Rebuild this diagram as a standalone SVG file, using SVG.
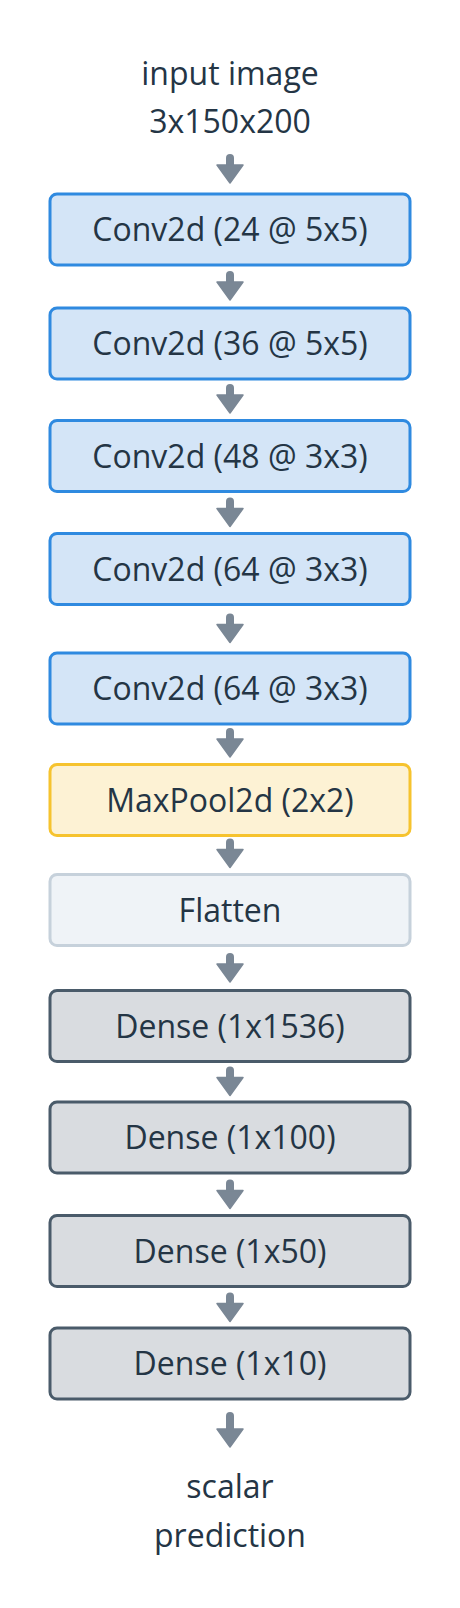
<svg xmlns="http://www.w3.org/2000/svg" width="460" height="1608" viewBox="0 0 460 1608">
  <defs>
    <style>
      .t { font-family: "Open Sans", "Noto Sans", "DejaVu Sans", sans-serif; font-size: 32px; font-weight: 500; fill: #243545; text-anchor: middle; }
      .box { stroke-width: 3; }
      .conv { fill: #d4e5f7; stroke: #2f8ae0; }
      .pool { fill: #fdf2d4; stroke: #f6c32e; }
      .flat { fill: #eff3f7; stroke: #c6d1db; }
      .dense { fill: #d9dce0; stroke: #4a5b6a; }
      .shaft { stroke: #7a8795; stroke-width: 8; stroke-linecap: round; fill: none; }
      .head { fill: #7a8795; stroke: #7a8795; stroke-width: 1.5; stroke-linejoin: round; }
    </style>
    <g id="arrow">
      <line class="shaft" x1="0" y1="4" x2="0" y2="14"/>
      <polygon class="head" points="-13,11 13,11 0,29"/>
    </g>
  </defs>
  <rect width="460" height="1608" fill="#ffffff"/>

  <g id="input">
    <text class="t" x="230" y="85">input image</text>
    <text class="t" x="230" y="133">3x150x200</text>
  </g>

  <g id="conv1"><rect class="box conv" x="50" y="194" width="360" height="71" rx="7"/><text class="t" x="230" y="241">Conv2d (24 @ 5x5)</text></g>
  <g id="conv2"><rect class="box conv" x="50" y="308" width="360" height="71" rx="7"/><text class="t" x="230" y="355">Conv2d (36 @ 5x5)</text></g>
  <g id="conv3"><rect class="box conv" x="50" y="420.5" width="360" height="71" rx="7"/><text class="t" x="230" y="467.5">Conv2d (48 @ 3x3)</text></g>
  <g id="conv4"><rect class="box conv" x="50" y="533.5" width="360" height="71" rx="7"/><text class="t" x="230" y="580.5">Conv2d (64 @ 3x3)</text></g>
  <g id="conv5"><rect class="box conv" x="50" y="653" width="360" height="71" rx="7"/><text class="t" x="230" y="700">Conv2d (64 @ 3x3)</text></g>
  <g id="maxpool"><rect class="box pool" x="50" y="764.5" width="360" height="71" rx="7"/><text class="t" x="230" y="811.5">MaxPool2d (2x2)</text></g>
  <g id="flatten"><rect class="box flat" x="50" y="874.5" width="360" height="71" rx="7"/><text class="t" x="230" y="921.5">Flatten</text></g>
  <g id="dense1"><rect class="box dense" x="50" y="990.5" width="360" height="71" rx="7"/><text class="t" x="230" y="1037.5">Dense (1x1536)</text></g>
  <g id="dense2"><rect class="box dense" x="50" y="1102" width="360" height="71" rx="7"/><text class="t" x="230" y="1149">Dense (1x100)</text></g>
  <g id="dense3"><rect class="box dense" x="50" y="1215.5" width="360" height="71" rx="7"/><text class="t" x="230" y="1262.5">Dense (1x50)</text></g>
  <g id="dense4"><rect class="box dense" x="50" y="1328" width="360" height="71" rx="7"/><text class="t" x="230" y="1375">Dense (1x10)</text></g>

  <g id="output">
    <text class="t" x="230" y="1498">scalar</text>
    <text class="t" x="230" y="1546.5">prediction</text>
  </g>

  <g id="connectors">
    <use href="#arrow" x="230" y="154"/>
    <use href="#arrow" x="230" y="271"/>
    <use href="#arrow" x="230" y="384"/>
    <use href="#arrow" x="230" y="497.5"/>
    <use href="#arrow" x="230" y="613.5"/>
    <use href="#arrow" x="230" y="728"/>
    <use href="#arrow" x="230" y="838.5"/>
    <use href="#arrow" x="230" y="953"/>
    <use href="#arrow" x="230" y="1066.5"/>
    <use href="#arrow" x="230" y="1179.5"/>
    <use href="#arrow" x="230" y="1292.5"/>
    <line class="shaft" x1="230" y1="1416" x2="230" y2="1432"/>
    <polygon class="head" points="217,1429 243,1429 230,1447"/>
  </g>
</svg>
